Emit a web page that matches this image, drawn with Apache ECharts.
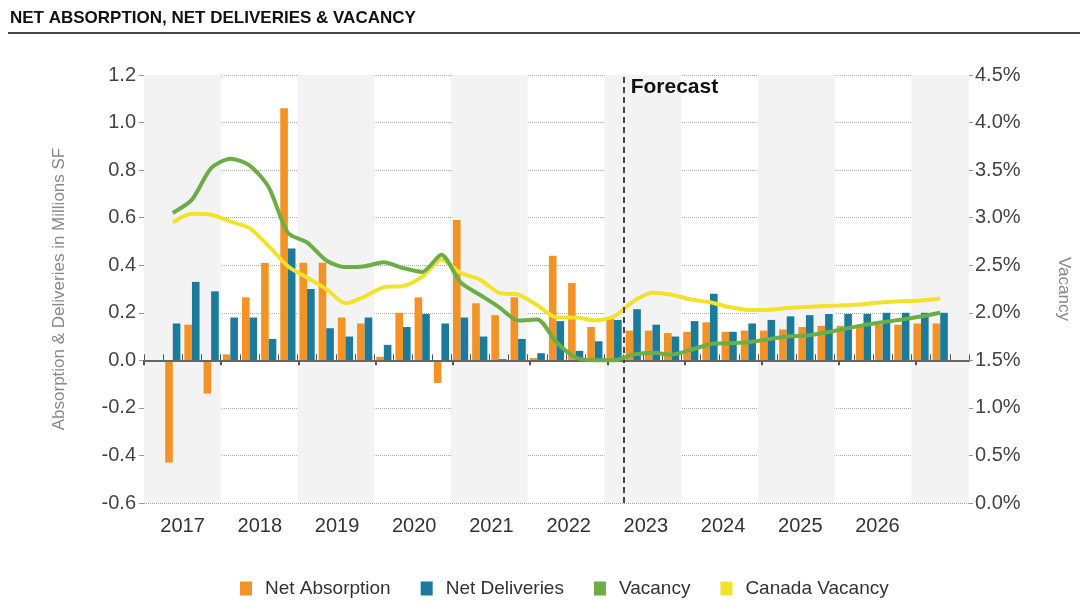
<!DOCTYPE html>
<html><head><meta charset="utf-8">
<script src="https://cdn.jsdelivr.net/npm/echarts@6/dist/echarts.min.js"></script>
<style>html,body{margin:0;padding:0;background:#fff}#chart{width:1080px;height:603px}</style>
</head><body><div id="chart"></div>
<script>
// 43 quarterly slots on the axis (2017 Q1 .. 2027 Q3); data runs 2017 Q2 .. 2027 Q2
const quarters = [
  '2017 Q1','2017 Q2','2017 Q3','2017 Q4','2018 Q1','2018 Q2','2018 Q3','2018 Q4',
  '2019 Q1','2019 Q2','2019 Q3','2019 Q4','2020 Q1','2020 Q2','2020 Q3','2020 Q4',
  '2021 Q1','2021 Q2','2021 Q3','2021 Q4','2022 Q1','2022 Q2','2022 Q3','2022 Q4',
  '2023 Q1','2023 Q2','2023 Q3','2023 Q4','2024 Q1','2024 Q2','2024 Q3','2024 Q4',
  '2025 Q1','2025 Q2','2025 Q3','2025 Q4','2026 Q1','2026 Q2','2026 Q3','2026 Q4',
  '2027 Q1','2027 Q2','2027 Q3'
];
const yearLabels = ['2017','2018','2019','2020','2021','2022','2023','2024','2025','2026'];
const forecastStart = 25; // boundary index where forecast begins

// Values, 2017 Q2 .. 2027 Q2
const netAbsorption = [
  -0.43, 0.15, -0.14,
  0.025, 0.265, 0.41, 1.06,
  0.41, 0.41, 0.18, 0.155,
  0.015, 0.20, 0.265, -0.095,
  0.59, 0.24, 0.19, 0.265,
  0.01, 0.44, 0.325, 0.14,
  0.175, 0.125, 0.125, 0.115,
  0.12, 0.16, 0.12, 0.125,
  0.125, 0.13, 0.14, 0.145,
  0.145, 0.14, 0.15, 0.15,
  0.155, 0.155
];
const netDeliveries = [
  0.155, 0.33, 0.29,
  0.18, 0.18, 0.09, 0.47,
  0.30, 0.135, 0.10, 0.18,
  0.065, 0.14, 0.195, 0.155,
  0.18, 0.10, 0.005, 0.09,
  0.03, 0.165, 0.04, 0.08,
  0.17, 0.215, 0.15, 0.10,
  0.165, 0.28, 0.12, 0.155,
  0.17, 0.185, 0.19, 0.195,
  0.195, 0.195, 0.20, 0.20,
  0.20, 0.20
];
const vacancy = [
  3.05, 3.19, 3.52,
  3.62, 3.55, 3.32, 2.84,
  2.74, 2.55, 2.48, 2.49,
  2.53, 2.47, 2.43, 2.61,
  2.32, 2.19, 2.06, 1.92,
  1.93, 1.69, 1.53, 1.50,
  1.50, 1.56, 1.58, 1.56,
  1.61, 1.67, 1.68, 1.69,
  1.72, 1.75, 1.76, 1.79,
  1.83, 1.87, 1.90, 1.93,
  1.96, 2.00
];
const canadaVacancy = [
  2.95, 3.04, 3.03,
  2.96, 2.89, 2.70, 2.49,
  2.37, 2.25, 2.10, 2.17,
  2.27, 2.28, 2.38, 2.56,
  2.42, 2.35, 2.21, 2.19,
  2.08, 1.95, 1.95, 1.92,
  1.96, 2.12, 2.21, 2.19,
  2.14, 2.11, 2.06, 2.03,
  2.03, 2.05, 2.06, 2.07,
  2.08, 2.09, 2.11, 2.12,
  2.13, 2.15
];

const FONT = '"Liberation Sans", Arial, sans-serif';
const pad = a => [null].concat(a, [null]);
const fmt1 = v => (Math.abs(v) < 1e-9 ? 0 : v).toFixed(1);

const chart = echarts.init(document.getElementById('chart'));
chart.setOption({
  animation: false,
  textStyle: { fontFamily: FONT },
  title: {
    text: 'NET ABSORPTION, NET DELIVERIES & VACANCY', left: 5, top: 5,
    textStyle: { fontSize: 17, fontWeight: 'bold', color: '#111', fontFamily: FONT }
  },
  graphic: [{ type: 'line', shape: { x1: 8, y1: 33, x2: 1080, y2: 33 }, style: { stroke: '#444', lineWidth: 2 } }],
  legend: {
    data: ['Net Absorption', 'Net Deliveries', 'Vacancy', 'Canada Vacancy'],
    left: 235, top: 574, icon: 'rect', itemWidth: 12, itemHeight: 14, itemGap: 30,
    textStyle: { fontSize: 19, color: '#333', fontFamily: FONT, padding: [0, 0, 0, 8] }
  },
  grid: [
    { left: 144, right: 106, top: 75, bottom: 100 },
    { left: 144, width: 830 * 40 / 43, top: 75, bottom: 100 }
  ],
  xAxis: [
    {
      type: 'category', gridIndex: 0, data: quarters, boundaryGap: true,
      axisLine: { lineStyle: { color: '#555', width: 2 } },
      axisTick: { show: true, interval: 0, inside: true, length: 6, lineStyle: { color: '#555', width: 1 } },
      axisLabel: { show: false }, splitLine: { show: false }
    },
    {
      type: 'category', gridIndex: 1, data: yearLabels, boundaryGap: true,
      axisLine: { show: false },
      axisTick: { show: true, interval: 0, length: 5, lineStyle: { color: '#555', width: 2 } },
      axisLabel: { fontSize: 20, color: '#333', margin: 13, fontFamily: FONT }
    },
    {
      type: 'value', gridIndex: 0, min: 0, max: 43, interval: 4, position: 'top',
      axisLine: { show: false }, axisTick: { show: false }, axisLabel: { show: false },
      splitLine: { show: false },
      splitArea: { show: true, areaStyle: { color: ['#F3F3F3', 'rgba(255,255,255,0)'] } }
    }
  ],
  yAxis: [
    {
      type: 'value', gridIndex: 0, min: -0.6, max: 1.2, interval: 0.2,
      name: 'Absorption & Deliveries in Millions SF', nameLocation: 'middle', nameGap: 76,
      nameTextStyle: { fontSize: 17, color: '#888', fontFamily: FONT },
      axisLine: { show: false },
      axisTick: { show: true, length: 5, lineStyle: { color: '#999' } },
      axisLabel: { fontSize: 20, color: '#444', margin: 8, formatter: fmt1, fontFamily: FONT },
      splitLine: { lineStyle: { type: 'dotted', color: '#aaa', width: 1 } }
    },
    {
      type: 'value', gridIndex: 0, position: 'right', min: 0, max: 4.5, interval: 0.5,
      name: 'Vacancy', nameLocation: 'middle', nameRotate: -90, nameGap: 86,
      nameTextStyle: { fontSize: 17, color: '#888', fontFamily: FONT },
      axisLine: { show: false },
      axisTick: { show: true, length: 4, lineStyle: { color: '#999' } },
      axisLabel: { fontSize: 20, color: '#444', margin: 6, formatter: v => fmt1(v) + '%', fontFamily: FONT },
      splitLine: { show: false }
    },
    { type: 'value', gridIndex: 1, show: false, min: -0.6, max: 1.2 }
  ],
  series: [
    {
      name: 'Net Absorption', type: 'bar', xAxisIndex: 0, yAxisIndex: 0,
      data: pad(netAbsorption), barWidth: 7.6, barGap: '0%', itemStyle: { color: '#F39325' }
    },
    {
      name: 'Net Deliveries', type: 'bar', xAxisIndex: 0, yAxisIndex: 0,
      data: pad(netDeliveries), barWidth: 7.6, barGap: '0%', itemStyle: { color: '#1B7B9B' }
    },
    {
      name: 'Vacancy', type: 'line', xAxisIndex: 0, yAxisIndex: 1, data: pad(vacancy),
      symbol: 'none', smooth: 0.25, z: 5,
      lineStyle: { width: 4, color: '#6AAE45' }, itemStyle: { color: '#6AAE45' }
    },
    {
      name: 'Canada Vacancy', type: 'line', xAxisIndex: 0, yAxisIndex: 1, data: pad(canadaVacancy),
      symbol: 'none', smooth: 0.25, z: 4,
      lineStyle: { width: 4, color: '#F2E22C' }, itemStyle: { color: '#F2E22C' }
    },
    {
      type: 'line', xAxisIndex: 2, yAxisIndex: 0, data: [[forecastStart, 0]], symbol: 'none',
      lineStyle: { opacity: 0 }, silent: true, z: 6,
      markLine: {
        symbol: 'none', silent: true, label: { show: false },
        data: [
          { yAxis: 0, lineStyle: { type: 'solid', color: '#666', width: 2 } },
          { xAxis: forecastStart, lineStyle: { type: [6, 4], color: '#444', width: 2 } }
        ]
      },
      markPoint: {
        symbol: 'circle', symbolSize: 0, silent: true,
        data: [{ coord: [forecastStart, 1.2] }],
        label: {
          show: true, formatter: 'Forecast', position: 'right', distance: 7, offset: [0, 12],
          fontSize: 21, fontWeight: 'bold', color: '#111', fontFamily: FONT
        }
      }
    }
  ]
});
</script></body></html>
